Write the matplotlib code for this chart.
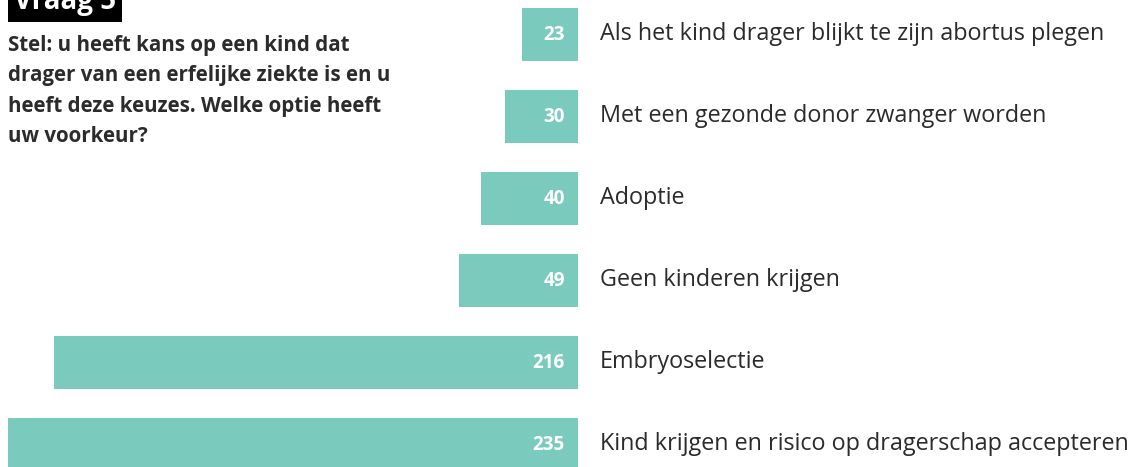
import matplotlib
matplotlib.use("Agg")
import matplotlib.pyplot as plt

# survey answers, top to bottom
labels = [
    "Als het kind drager blijkt te zijn abortus plegen",
    "Met een gezonde donor zwanger worden",
    "Adoptie",
    "Geen kinderen krijgen",
    "Embryoselectie",
    "Kind krijgen en risico op dragerschap accepteren",
]
counts = [23, 30, 40, 49, 216, 235]

question = ("Stel: u heeft kans op een kind dat\n"
            "drager van een erfelijke ziekte is en u\n"
            "heeft deze keuzes. Welke optie heeft\n"
            "uw voorkeur?")
title = "Vraag 5"

teal = "#7acbbe"
dark = "#2b2b2b"
plt.rcParams['font.family'] = ['Open Sans', 'DejaVu Sans']

W, H = 1144, 467
fig = plt.figure(figsize=(W / 100, H / 100), dpi=100)
ax = fig.add_axes([0, 0, 1, 1])

px_per_unit = 2.426
x0 = 578  # pixel where bars end
ax.set_xlim(-x0 / px_per_unit, (W - x0) / px_per_unit)
ax.set_ylim(H, 0)  # y in pixel rows from top

ypos = [34.5 + 82 * i for i in range(len(counts))]
ax.barh(ypos, [-c for c in counts], height=53, color=teal, left=0)

for y, c, lab in zip(ypos, counts, labels):
    ax.text(-13 / px_per_unit, y + 1, str(c), ha='right', va='center',
            color='white', fontsize=13.5, fontweight='bold')
    ax.text(22 / px_per_unit, y - 1, lab, ha='left', va='center',
            color=dark, fontsize=16.8)

ax.axis('off')

# header box, cut off at top
fig.text(14 / W, 1 - 2 / H, title, ha='left', va='center', color='white',
         fontsize=20, fontweight='bold',
         bbox=dict(facecolor='black', edgecolor='none', pad=4))

fig.text(8 / W, 1 - 91 / H, question, ha='left', va='center', color=dark,
         fontsize=14.8, fontweight='bold', linespacing=1.6)

fig.savefig("out.png", dpi=100)
